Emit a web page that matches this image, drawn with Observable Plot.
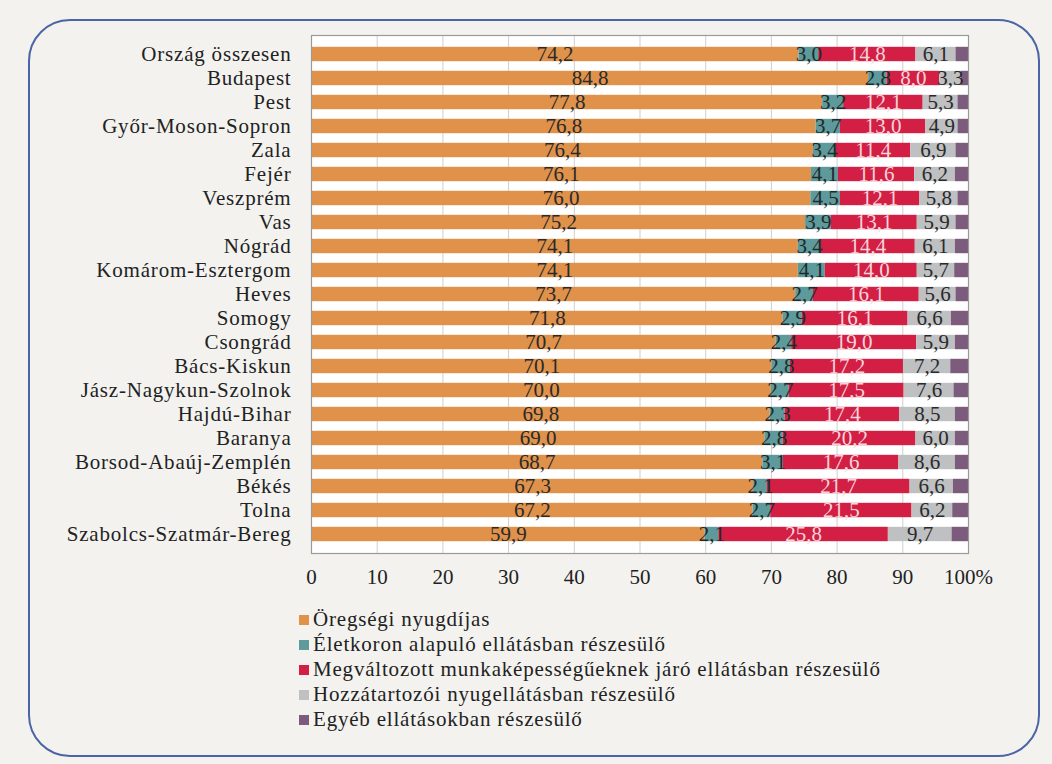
<!DOCTYPE html>
<html>
<head>
<meta charset="utf-8">
<script src="https://cdn.jsdelivr.net/npm/d3@7"></script>
<script src="https://cdn.jsdelivr.net/npm/@observablehq/plot@0.6"></script>
<style>
  html, body { margin: 0; padding: 0; background: #f3f2ef; }
  body { width: 1052px; height: 764px; position: relative; overflow: hidden; font-family: "Liberation Serif", "DejaVu Serif", serif; }
  #box { position: absolute; left: 28px; top: 19px; width: 1012px; height: 738px; border: 2px solid #4a64a6; border-radius: 42px; box-sizing: border-box; }
  #chart { position: absolute; left: 0; top: 0; width: 1052px; height: 600px; }
  #chart svg { display: block; width: 1052px; height: 600px; max-width: none; }
  #legend { position: absolute; left: 299px; top: 607px; font-size: 21px; letter-spacing: 0.8px; color: #222; }
  .item { height: 25px; line-height: 25px; display: flex; align-items: center; }
  .sw { width: 10px; height: 10px; margin-right: 4px; display: inline-block; }
</style>
</head>
<body>
<div id="box"></div>
<div id="chart"></div>
<div id="legend"></div>
<script>
const regions = ["Ország összesen","Budapest","Pest","Győr-Moson-Sopron","Zala","Fejér","Veszprém","Vas","Nógrád","Komárom-Esztergom","Heves","Somogy","Csongrád","Bács-Kiskun","Jász-Nagykun-Szolnok","Hajdú-Bihar","Baranya","Borsod-Abaúj-Zemplén","Békés","Tolna","Szabolcs-Szatmár-Bereg"];
const seriesNames = ["Öregségi nyugdíjas","Életkoron alapuló ellátásban részesülő","Megváltozott munkaképességűeknek járó ellátásban részesülő","Hozzátartozói nyugellátásban részesülő","Egyéb ellátásokban részesülő"];
const colors = ["#e0924a","#5e9a9b","#d21f43","#bfc0c2","#7c5b7c"];
const oregsegi = [74.2,84.8,77.8,76.8,76.4,76.1,76.0,75.2,74.1,74.1,73.7,71.8,70.7,70.1,70.0,69.8,69.0,68.7,67.3,67.2,59.9];
const eletkoron = [3.0,2.8,3.2,3.7,3.4,4.1,4.5,3.9,3.4,4.1,2.7,2.9,2.4,2.8,2.7,2.3,2.8,3.1,2.1,2.7,2.1];
const megvaltozott = [14.8,8.0,12.1,13.0,11.4,11.6,12.1,13.1,14.4,14.0,16.1,16.1,19.0,17.2,17.5,17.4,20.2,17.6,21.7,21.5,25.8];
const hozzatartozoi = [6.1,3.3,5.3,4.9,6.9,6.2,5.8,5.9,6.1,5.7,5.6,6.6,5.9,7.2,7.6,8.5,6.0,8.6,6.6,6.2,9.7];
const egyeb = [1.9,1.1,1.6,1.6,1.9,2.0,1.6,1.9,2.0,2.1,1.9,2.6,2.0,2.7,2.2,2.0,2.0,2.0,2.3,2.4,2.5];
const xTicks = [0,10,20,30,40,50,60,70,80,90,100];
const labelColors = ["#2a2a2a","#1f2a2a","#f6d3db","#2a2a2a",null];

const seriesValues = [oregsegi, eletkoron, megvaltozott, hozzatartozoi, egyeb];
const data = [];
seriesValues.forEach((vals, si) => {
  regions.forEach((r, ri) => {
    data.push({region: r, series: seriesNames[si], si, value: vals[ri]});
  });
});
const fmt = v => v.toFixed(1).replace(".", ",");

const chart = Plot.plot({
  width: 1052,
  height: 600,
  marginLeft: 311,
  marginRight: 84,
  marginTop: 35,
  marginBottom: 47,
  style: {fontFamily: "'Liberation Serif', serif", fontSize: "21px", color: "#222", background: "transparent", overflow: "visible"},
  x: {domain: [0, 100], ticks: xTicks, tickSize: 0, tickPadding: 16, tickFormat: d => d === 100 ? "100%" : String(d), label: null},
  y: {type: "band", domain: regions, paddingInner: 0, paddingOuter: 0, align: 0.5, range: [35, 553], tickSize: 0, tickPadding: 20, label: null},
  color: {domain: seriesNames, range: colors},
  marks: [
    Plot.frame({fill: "white", stroke: "none"}),
    Plot.ruleX(xTicks, {stroke: "#cfcfcf", strokeWidth: 1}),
    Plot.barX(data, Plot.stackX({x: "value", y: "region", fill: "series", insetTop: 4.8, insetBottom: 4.8})),
    Plot.text(data.filter(d => d.si < 4), Plot.stackX({x: "value", y: "region", z: "series", text: d => fmt(d.value), fill: d => labelColors[d.si], fontSize: 21})),
    Plot.frame({stroke: "#9a9a9a", strokeWidth: 1.2})
  ]
});
document.getElementById("chart").appendChild(chart);
chart.querySelectorAll("g[aria-label='y-axis tick label'] text").forEach(t => t.style.letterSpacing = "0.8px");

const legend = document.getElementById("legend");
seriesNames.forEach((n, i) => {
  const d = document.createElement("div");
  d.className = "item";
  d.innerHTML = `<span class="sw" style="background:${colors[i]}"></span><span>${n}</span>`;
  legend.appendChild(d);
});
</script>
</body>
</html>
